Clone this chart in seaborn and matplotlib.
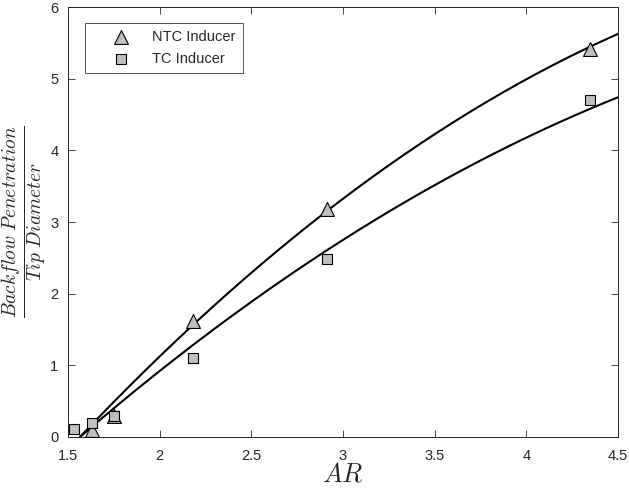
import numpy as np
import pandas as pd
import matplotlib
matplotlib.use("Agg")
import matplotlib.pyplot as plt
import seaborn as sns

# ---- data ----
ntc_ar = [1.63, 1.75, 2.18, 2.91, 4.35]
ntc_pen = [0.10, 0.30, 1.62, 3.18, 5.42]
tc_ar = [1.53, 1.63, 1.75, 2.18, 2.91, 4.35]
tc_pen = [0.11, 0.19, 0.30, 1.10, 2.48, 4.70]

# trend-curve parameters: y = p*(x-x0) + q*(x-x0)^2
ntc_fit = [1.565, 2.70, -0.267]
tc_fit = [1.565, 2.205, -0.201]

x_ticks = [1.5, 2, 2.5, 3, 3.5, 4, 4.5]
y_ticks = [0, 1, 2, 3, 4, 5, 6]

sns.set_theme(style="white")
plt.rcParams["font.family"] = ["Liberation Sans", "DejaVu Sans"]
plt.rcParams["mathtext.fontset"] = "cm"

fig = plt.figure(figsize=(6.29, 4.96), dpi=100)
ax = fig.add_axes([68 / 629, 1 - 437 / 496, 550 / 629, 430 / 496])

for x0, p, q in [ntc_fit, tc_fit]:
    xs = np.linspace(x0, 4.5, 200)
    u = xs - x0
    sns.lineplot(x=xs, y=p * u + q * u ** 2, ax=ax, color="black", lw=1.5,
                 legend=False, zorder=2)

face = (0.75, 0.75, 0.75)
sns.scatterplot(x=ntc_ar, y=ntc_pen, ax=ax, marker="^", s=10 ** 2, color=face,
                edgecolor="black", linewidth=0.8, zorder=3, label="NTC Inducer", clip_on=False)
sns.scatterplot(x=tc_ar, y=tc_pen, ax=ax, marker="s", s=7 ** 2, color=face,
                edgecolor="black", linewidth=0.8, zorder=4, label="TC Inducer", clip_on=False)

ax.set_xlim(1.5, 4.5)
ax.set_ylim(0, 6)
ax.set_xticks(x_ticks)
ax.set_xticklabels([f"{t:g}" for t in x_ticks])
ax.set_yticks(y_ticks)
ax.tick_params(direction="in", length=5, width=0.6, colors="#262626", labelsize=10.5,
               top=True, right=True, bottom=True, left=True)
ax.tick_params(axis="x", pad=9)
ax.tick_params(axis="y", pad=7)
for sp in ax.spines.values():
    sp.set_color("#262626")
    sp.set_linewidth(0.7)

ax.set_xlabel(r"$AR$", fontsize=19, color="#262626")
ax.xaxis.set_label_coords(0.5, -0.06)
ax.set_ylabel(r"$\frac{Backflow\ Penetration}{Tip\ Diameter}$", fontsize=20,
              color="#262626")
ax.yaxis.set_label_coords(-0.035, 0.5)

leg = ax.legend(loc="upper left", bbox_to_anchor=(17 / 550, 1 - 16 / 430), frameon=True,
                fancybox=False, edgecolor="#262626", fontsize=10.5, borderpad=0.5,
                handletextpad=0.2, labelspacing=0.5, borderaxespad=0, handlelength=3.9)
leg.get_frame().set_linewidth(0.7)

fig.savefig("out.png", dpi=100)
